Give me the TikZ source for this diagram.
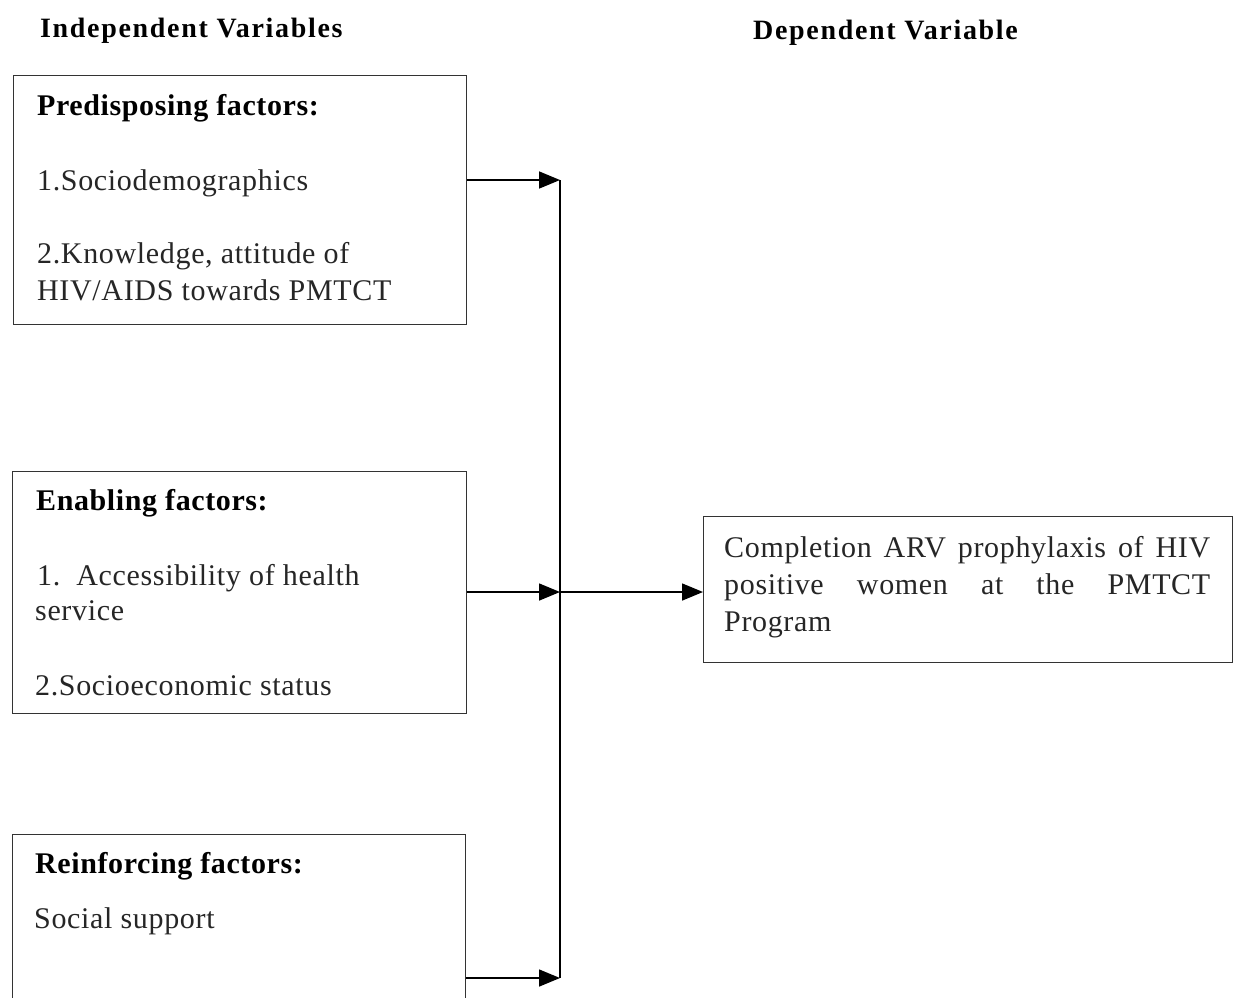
\documentclass[tikz,border=0pt]{standalone}
\usepackage{fontspec}
\setmainfont{Liberation Serif}
\newfontfamily\bodyfont[LetterSpace=2.2]{Liberation Serif}
\newfontfamily\headfont[LetterSpace=2.0]{Liberation Serif}
\newfontfamily\titlefont[LetterSpace=6]{Liberation Serif}
\usetikzlibrary{arrows.meta}
\tikzset{
  box/.style={draw=black!80, line width=1.3pt, anchor=north west, inner sep=0pt},
  body/.style={anchor=base west, inner sep=0pt, text=black!85, font=\bodyfont\fontsize{30}{37}\selectfont},
  head/.style={anchor=base west, inner sep=0pt, text=black, font=\headfont\fontsize{30}{37}\selectfont\bfseries},
  title/.style={anchor=base west, inner sep=0pt, text=black, font=\titlefont\fontsize{28}{32}\selectfont\bfseries},
  conn/.style={line width=1.6pt, draw=black},
  arr/.style={conn, -{Triangle[length=21pt,width=17pt]}},
}
\begin{document}
\begin{tikzpicture}[x=1pt,y=-1pt]
\useasboundingbox (0,0) rectangle (1241,997);
\clip (0,0) rectangle (1241,997);
\fill[white] (0,0) rectangle (1241,997);
% titles
\node[title] (t1) at (40,37) {Independent Variables};
\node[title] (t2) at (753,39) {Dependent Variable};
% boxes
\node[box, minimum width=453pt, minimum height=249pt] (pre) at (13,75) {};
\node[box, minimum width=454pt, minimum height=242pt] (ena) at (12,471) {};
\node[box, minimum width=453pt, minimum height=200pt] (rei) at (12,834) {};
\node[box, minimum width=529pt, minimum height=146pt] (dep) at (703,516) {};
% texts
\node[head] (p0) at (37,115) {Predisposing factors:};
\node[body] (p1) at (37,190) {1.Sociodemographics};
\node[body] (p2) at (37,263) {2.Knowledge, attitude of};
\node[body] (p3) at (37,300) {HIV/AIDS towards PMTCT};
\node[head] (e0) at (36,510) {Enabling factors:};
\node[body] (e1) at (37,585) {1.\hspace{16pt}Accessibility of health};
\node[body] (e2) at (35,620) {service};
\node[body] (e3) at (35,695) {2.Socioeconomic status};
\node[head] (r0) at (35,873) {Reinforcing factors:};
\node[body] (r1) at (34,928) {Social support};
\node[body] (d1) at (724,557) {\makebox[486pt][s]{Completion ARV prophylaxis of HIV}};
\node[body] (d2) at (724,594) {\makebox[486pt][s]{positive\hfill women\hfill at\hfill the\hfill PMTCT}};
\node[body] (d3) at (724,631) {Program};
% connectors
\coordinate (j1) at (560,180);
\coordinate (j2) at (560,592);
\coordinate (j3) at (560,978);
\draw[conn] (j1) -- (j3);
\draw[arr] (pre.east |- j1) -- (j1);
\draw[arr] (ena.east |- j2) -- (j2);
\draw[arr] (rei.east |- j3) -- (j3);
\draw[arr] (j2) -- (dep.west |- j2);
\end{tikzpicture}
\end{document}
